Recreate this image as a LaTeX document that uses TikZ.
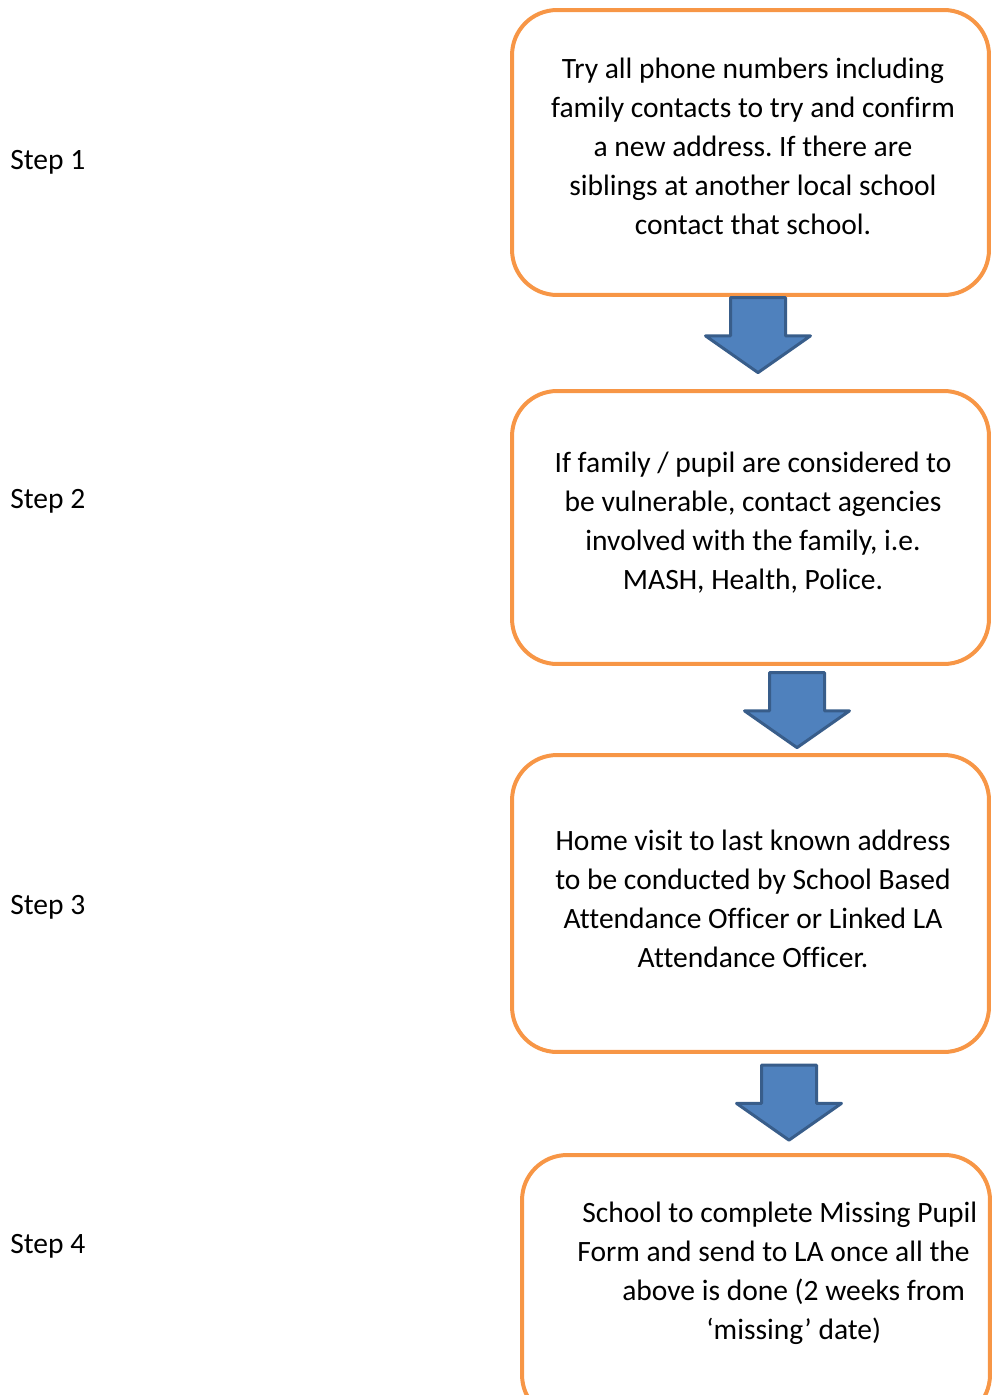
\documentclass[tikz,border=0pt]{standalone}
\usepackage{fontspec}
\setmainfont{Carlito}[Ligatures=NoCommon]
\usetikzlibrary{shapes.arrows}
\definecolor{boxorange}{HTML}{F79646}
\definecolor{arrowfill}{HTML}{4F81BD}
\definecolor{arrowline}{HTML}{385D8A}
\frenchspacing
\begin{document}
\begin{tikzpicture}[x=0.02cm, y=-0.02cm, font=\fontsize{16.8pt}{22.2pt}\selectfont]
\tikzstyle{box}=[draw=boxorange, line width=0.08cm, rounded corners=0.9cm, minimum width=9.54cm]
\tikzstyle{txt}=[align=center, inner sep=0pt]
\tikzstyle{lbl}=[anchor=west, inner sep=0pt]
\tikzstyle{dn}=[single arrow, rotate=-90, draw=arrowline, fill=arrowfill, line width=0.06cm, line join=round, inner xsep=0pt, inner ysep=0.52cm, minimum height=1.5cm, single arrow head extend=0.5cm, single arrow tip angle=110]
\useasboundingbox (0,0) rectangle (992,1395);
\clip (0,0) rectangle (992,1395);
\node[lbl] (s1) at (10,162) {Step 1};
\node[lbl] (s2) at (10,501) {Step 2};
\node[lbl] (s3) at (10,907) {Step 3};
\node[lbl] (s4) at (10,1246) {Step 4};
\node[box, minimum height=5.7cm] (b1) at (750.5,152.5) {};
\node[box, minimum height=5.46cm] (b2) at (750.5,527.5) {};
\node[box, minimum height=5.94cm] (b3) at (750.5,903.5) {};
\node[box, minimum width=9.36cm, minimum height=5.3cm] (b4) at (756,1287.5) {};
\node[txt] (t1) at (753,146.5) {Try all phone numbers including\\family contacts to try and confirm\\a new address. If there are\\siblings at another local school\\contact that school.};
\node[txt] (t2) at (753,522.5) {If family / pupil are considered to\\be vulnerable, contact agencies\\involved with the family, i.e.\\MASH, Health, Police.};
\node[txt] (t3) at (753,899) {Home visit to last known address\\to be conducted by School Based\\Attendance Officer or Linked LA\\Attendance Officer.};
\node[txt, align=left, anchor=west] (t4) at (577,1273) {\hspace*{0.1cm}School to complete Missing Pupil\\Form and send to LA once all the\\\hspace*{0.9cm}above is done (2 weeks from\\\hspace*{2.58cm}‘missing’ date)};
\node[dn] (a1) at (758,325.5) {};
\node[dn] (a2) at (797,700.5) {};
\node[dn] (a3) at (789,1093) {};
\end{tikzpicture}
\end{document}
